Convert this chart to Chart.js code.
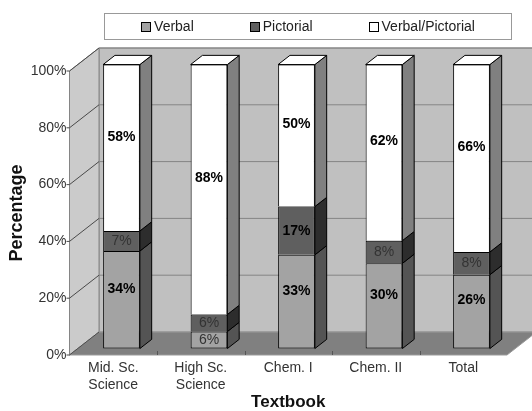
<!DOCTYPE html>
<html>
<head>
<meta charset="utf-8">
<script src="https://cdn.jsdelivr.net/npm/chart.js@4.4.1/dist/chart.umd.min.js"></script>
<style>
  html, body { margin: 0; padding: 0; background: #fff; }
</style>
</head>
<body>
<canvas id="chart" width="532" height="411"></canvas>
<script>
// textbook categories and the share of each explanation type (%)
const textbooks = [['Mid. Sc.', 'Science'], ['High Sc.', 'Science'], 'Chem. I', 'Chem. II', 'Total'];
const verbal = [34, 6, 33, 30, 26];
const pictorial = [7, 6, 17, 8, 8];
const verbalPictorial = [58, 88, 50, 62, 66];
const percentTicks = [0, 20, 40, 60, 80, 100];

// every column is scaled to its own total so it reaches 100%
const totals = verbal.map((v, i) => v + pictorial[i] + verbalPictorial[i]);
const share = arr => arr.map((v, i) => v / totals[i] * 100);

// 3D look: depth of the floor, and where the columns sit inside it
const DEPTH = { x: 29.5, y: -23 };
const BAR_FRONT = 0.28, BAR_BACK = 0.68;
const FONT = '"Liberation Sans", Arial, sans-serif';

function poly(ctx, pts, fill, stroke) {
    ctx.beginPath();
    pts.forEach(([px, py], i) => i ? ctx.lineTo(px, py) : ctx.moveTo(px, py));
    ctx.closePath();
    if (fill) { ctx.fillStyle = fill; ctx.fill(); }
    if (stroke) { ctx.strokeStyle = stroke; ctx.stroke(); }
}

function seg(ctx, x1, y1, x2, y2, color) {
    ctx.beginPath();
    ctx.moveTo(x1, y1);
    ctx.lineTo(x2, y2);
    ctx.strokeStyle = color;
    ctx.stroke();
}

const box3d = {
    id: 'box3d',
    beforeDatasetsDraw(chart) {
        const { ctx, chartArea: a, scales: { x, y } } = chart;
        const dx = DEPTH.x, dy = DEPTH.y;
        ctx.save();
        ctx.lineWidth = 1;
        // back wall, side wall, floor
        poly(ctx, [[a.left + dx, a.top + dy], [a.right + dx, a.top + dy], [a.right + dx, a.bottom + dy], [a.left + dx, a.bottom + dy]], '#c0c0c0', '#858585');
        poly(ctx, [[a.left, a.top], [a.left + dx, a.top + dy], [a.left + dx, a.bottom + dy], [a.left, a.bottom]], '#cbcbcb', '#858585');
        poly(ctx, [[a.left, a.bottom], [a.right, a.bottom], [a.right + dx, a.bottom + dy], [a.left + dx, a.bottom + dy]], '#808080', '#9a9a9a');

        // gridlines: flat on the back wall, slanted on the side wall
        percentTicks.forEach(v => {
            const py = y.getPixelForValue(v);
            if (v > 0) seg(ctx, a.left + dx, py + dy, a.right + dx, py + dy, '#858585');
            seg(ctx, a.left, py, a.left + dx, py + dy, '#4a4a4a');
            seg(ctx, a.left - 3, py, a.left, py, '#4a4a4a');
        });

        // category separators along the front edge of the floor
        for (let i = 1; i < textbooks.length; i++) {
            const px = Math.round((x.getPixelForValue(i - 1) + x.getPixelForValue(i)) / 2) + 0.5;
            seg(ctx, px, a.bottom - 4, px, a.bottom, '#555');
        }
        ctx.restore();

        // columns stand a little way back from the front edge
        ctx.save();
        ctx.translate(dx * BAR_FRONT, dy * BAR_FRONT);
    },
    afterDatasetsDraw(chart) {
        const { ctx } = chart;
        const bx = DEPTH.x * (BAR_BACK - BAR_FRONT), by = DEPTH.y * (BAR_BACK - BAR_FRONT);
        const last = chart.data.datasets.length - 1;
        ctx.lineWidth = 1;

        chart.data.datasets.forEach((ds, di) => {
            chart.getDatasetMeta(di).data.forEach(bar => {
                const { x, y: top, base, width } = bar.getProps(['x', 'y', 'base', 'width'], true);
                const r = x + width / 2, l = x - width / 2;
                // right-hand side face
                poly(ctx, [[r, top], [r + bx, top + by], [r + bx, base + by], [r, base]], ds.sideColor, '#000');
                // lid on the top segment
                if (di === last) {
                    poly(ctx, [[l, top], [l + bx, top + by], [r + bx, top + by], [r, top]], ds.topColor, '#000');
                }
            });
        });

        // value labels
        ctx.textAlign = 'center';
        ctx.textBaseline = 'middle';
        chart.data.datasets.forEach((ds, di) => {
            chart.getDatasetMeta(di).data.forEach((bar, i) => {
                const { x, y: top, base } = bar.getProps(['x', 'y', 'base'], true);
                const v = ds.values[i];
                const small = v < 10;
                ctx.font = (small ? 'normal' : 'bold') + ' 14px ' + FONT;
                ctx.fillStyle = small ? '#333' : '#000';
                const lift = base - top > 60 ? 11 : 0;
                ctx.fillText(v + '%', x, (top + base) / 2 - lift);
            });
        });
        ctx.restore();
    },
    afterDraw(chart) {
        // boxed legend above the plot
        const { ctx } = chart;
        const left = 104.5, right = 511.5, top = 13.5, bottom = 39.5;
        ctx.save();
        ctx.lineWidth = 1;
        ctx.strokeStyle = '#999';
        ctx.strokeRect(left, top, right - left, bottom - top);

        ctx.font = '14px ' + FONT;
        ctx.textBaseline = 'middle';
        const gap = 56, sq = 9, pad = 4;
        const items = chart.data.datasets.map(ds => ({ ds, w: sq + pad + ctx.measureText(ds.label).width }));
        const total = items.reduce((s, it) => s + it.w, 0) + gap * (items.length - 1);
        let cx = (left + right) / 2 - total / 2;
        const cy = (top + bottom) / 2;
        items.forEach(({ ds, w }) => {
            ctx.fillStyle = ds.backgroundColor;
            ctx.fillRect(Math.round(cx) + 0.5, Math.round(cy - sq / 2) + 0.5, sq, sq);
            ctx.strokeStyle = '#000';
            ctx.strokeRect(Math.round(cx) + 0.5, Math.round(cy - sq / 2) + 0.5, sq, sq);
            ctx.fillStyle = '#222';
            ctx.fillText(ds.label, cx + sq + pad, cy + 1);
            cx += w + gap;
        });
        ctx.restore();
    }
};

const ctx = document.getElementById('chart').getContext('2d');
new Chart(ctx, {
    type: 'bar',
    data: {
        labels: textbooks,
        datasets: [
            { label: 'Verbal', data: share(verbal), values: verbal,
              backgroundColor: '#a3a3a3', sideColor: '#545454', topColor: '#c8c8c8' },
            { label: 'Pictorial', data: share(pictorial), values: pictorial,
              backgroundColor: '#5f5f5f', sideColor: '#2d2d2d', topColor: '#7a7a7a' },
            { label: 'Verbal/Pictorial', data: share(verbalPictorial), values: verbalPictorial,
              backgroundColor: '#ffffff', sideColor: '#808080', topColor: '#ffffff' }
        ]
    },
    options: {
        responsive: false,
        animation: false,
        layout: { padding: { top: 71, right: 25, bottom: 0, left: 0 } },
        datasets: {
            bar: {
                categoryPercentage: 1,
                barPercentage: 0.42,
                borderColor: '#000',
                borderWidth: 1,
                borderSkipped: c => c.datasetIndex === 0 ? false : 'bottom',
                clip: false
            }
        },
        scales: {
            x: {
                stacked: true,
                grid: { display: false, drawTicks: false },
                border: { display: false },
                ticks: { color: '#333', padding: 4, font: { family: FONT, size: 14, lineHeight: 1.25 } },
                title: { display: true, text: 'Textbook', color: '#111', padding: 0,
                         font: { family: FONT, size: 17, weight: 'bold', lineHeight: 1 } },
                afterFit: s => { s.height = 56; }
            },
            y: {
                stacked: true,
                min: 0,
                max: 100,
                grid: { display: false, drawTicks: false },
                border: { display: false },
                ticks: { stepSize: 20, padding: 3, color: '#333',
                         font: { family: FONT, size: 14 },
                         callback: v => v + '%' },
                title: { display: true, text: 'Percentage', color: '#111', padding: { top: 8, bottom: 0 },
                         font: { family: FONT, size: 18, weight: 'bold', lineHeight: 1 } },
                afterFit: s => { s.width = 69.5; }
            }
        },
        plugins: {
            legend: { display: false },
            tooltip: { enabled: false }
        }
    },
    plugins: [box3d]
});
</script>
</body>
</html>
